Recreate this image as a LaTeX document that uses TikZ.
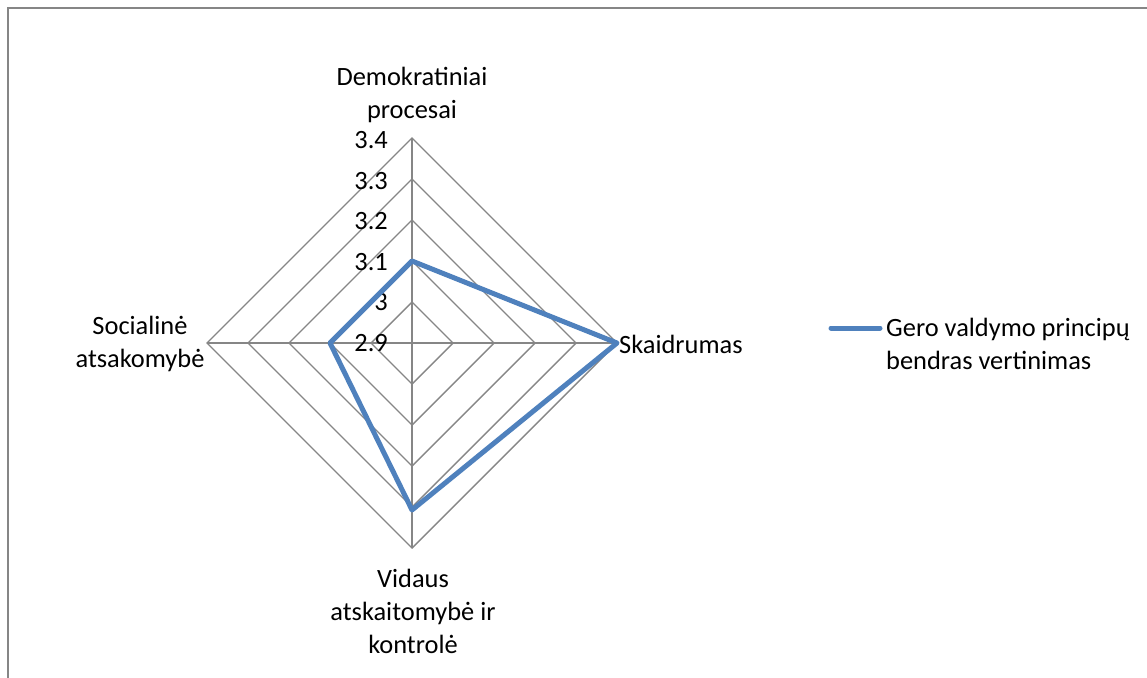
\documentclass[tikz,border=0pt]{standalone}
\usepackage{fontspec}
\setmainfont{Carlito}
\usetikzlibrary{positioning}
\definecolor{gridgray}{HTML}{868686}
\definecolor{seriesblue}{HTML}{4F81BD}
\tikzstyle{grid} = [draw=gridgray, line width=1.4pt]
\tikzstyle{series} = [draw=seriesblue, line width=5pt, line join=round]
\tikzstyle{axis label} = [align=center, inner sep=0pt,
    font=\fontsize{26.4}{33}\selectfont]
\tikzstyle{tick} = [anchor=east, inner sep=0pt,
    font=\fontsize{26.4}{33}\selectfont]

\begin{document}
\begin{tikzpicture}[x=1pt, y=-1pt]
  \useasboundingbox (0,0) rectangle (1147,677);
  % Chart frame
  \draw [gridgray, line width=1.5pt] (8,680) -- (8,8) -- (1150,8);

  % Place grid
  \coordinate (centre) at (412,343);
  \begin{scope}[shift={(centre)}]
    \foreach \r in {41,82,123,164,205}
      \draw [grid] (0,-\r) -- (\r,0) -- (0,\r) -- (-\r,0) -- cycle;
    \coordinate (top) at (0,-205);
    \coordinate (right) at (205,0);
    \coordinate (bottom) at (0,205);
    \coordinate (left) at (-205,0);
    % data points
    \coordinate (demo) at (0,-82);
    \coordinate (skaid) at (205,0);
    \coordinate (vidaus) at (0,167);
    \coordinate (social) at (-82,0);
  \end{scope}
  \draw [grid] (top) -- (bottom);
  \draw [grid] (left) -- (right);

  % Tick labels
  \foreach \v [count=\i from 0] in {2.9,3,3.1,3.2,3.3,3.4}
    \node [tick] (tick\i) at (388,{343-40.6*\i}) {\v};

  % Axis labels
  \node [axis label] (demolabel) at (412,95) {Demokratiniai\\procesai};
  \node [axis label, anchor=west] (skaidlabel) at (619,344) {Skaidrumas};
  \node [axis label] (vidauslabel) at (413,611) {Vidaus\\atskaitomybė ir\\kontrolė};
  \node [axis label] (sociallabel) at (140,344) {Socialinė\\atsakomybė};

  % Draw series
  \draw [series] (demo) -- (skaid) -- (vidaus) -- (social) -- cycle;

  % Legend
  \coordinate (keyleft) at (831,328);
  \coordinate (keyright) at (880,328);
  \draw [series, line cap=round] (keyleft) -- (keyright);
  \node [axis label, align=left, anchor=west] (legend) at (886,344)
    {Gero valdymo principų\\bendras vertinimas};
\end{tikzpicture}
\end{document}
